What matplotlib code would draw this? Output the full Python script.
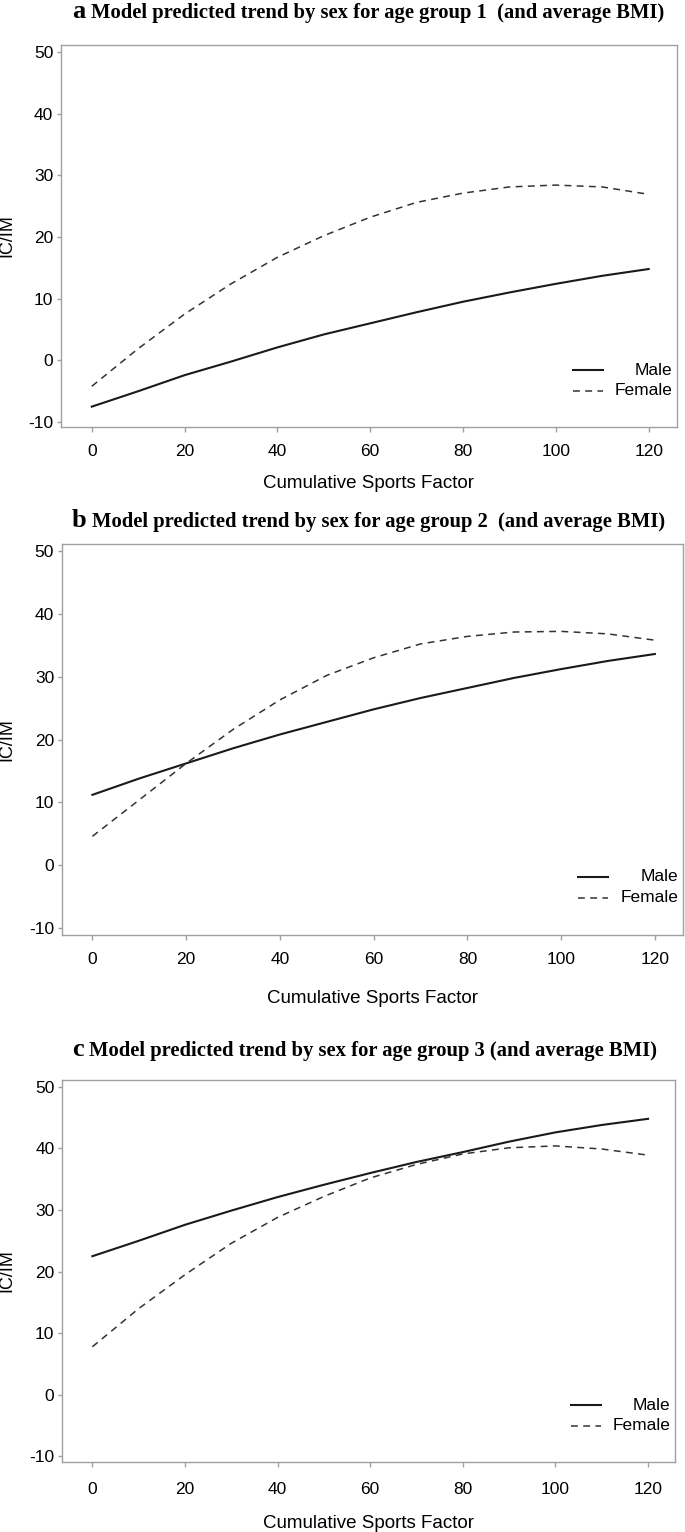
import matplotlib
matplotlib.use("Agg")
from matplotlib import pyplot as plt

plt.rcParams["font.family"] = ["Liberation Sans", "DejaVu Sans"]
plt.rcParams["axes.unicode_minus"] = False

csf = [0, 10, 20, 30, 40, 50, 60, 70, 80, 90, 100, 110, 120]

# age group 1
male_1 = [-7.5, -5.0, -2.4, -0.2, 2.1, 4.2, 6.0, 7.8, 9.5, 11.0, 12.4, 13.7, 14.8]
female_1 = [-4.2, 1.9, 7.5, 12.4, 16.7, 20.2, 23.2, 25.6, 27.1, 28.1, 28.4, 28.1, 26.9]
# age group 2
male_2 = [11.2, 13.8, 16.2, 18.6, 20.8, 22.8, 24.8, 26.6, 28.2, 29.8, 31.2, 32.5, 33.6]
female_2 = [4.6, 10.4, 16.2, 21.6, 26.3, 30.2, 33.0, 35.2, 36.4, 37.1, 37.2, 36.8, 35.8]
# age group 3
male_3 = [22.5, 25.0, 27.6, 29.9, 32.1, 34.1, 36.0, 37.8, 39.4, 41.1, 42.6, 43.8, 44.8]
female_3 = [7.8, 14.0, 19.5, 24.6, 28.8, 32.2, 35.2, 37.4, 39.1, 40.1, 40.4, 39.9, 38.9]

letters = ["a", "b", "c"]
titles = [
    "Model predicted trend by sex for age group 1  (and average BMI)",
    "Model predicted trend by sex for age group 2  (and average BMI)",
    "Model predicted trend by sex for age group 3 (and average BMI)",
]
xticks = [0, 20, 40, 60, 80, 100, 120]
yticks = [-10, 0, 10, 20, 30, 40, 50]

W, H = 685, 1532
fig = plt.figure(figsize=(W / 100, H / 100), dpi=100)

# left, right, top, bottom (pixels), xlim, ylim, title baseline, x pad, xlabel pad
panels = [
    (60.7, 677, 45, 427, (-6.7, 126.1), (-10.8, 51.1), 18, 8.5, 12),
    (61.5, 683, 544, 935, (-6.6, 126.0), (-11.1, 51.1), 527, 8.5, 17),
    (61.8, 674.5, 1080, 1462, (-6.6, 125.7), (-10.9, 51.1), 1056, 10.5, 13),
]
data = [(male_1, female_1), (male_2, female_2), (male_3, female_3)]

grey = "#a0a0a0"
for i, (l, r, t, b, xlim, ylim, tb, xp, lp) in enumerate(panels):
    ax = fig.add_axes([l / W, 1 - b / H, (r - l) / W, (b - t) / H])
    male, female = data[i]
    ax.plot(csf, male, color="#1a1a1a", lw=1.5, ls="-")
    ax.plot(csf, female, color="#333333", lw=1.1, ls=(0, (4.5, 3.5)))
    ax.set_xlim(*xlim)
    ax.set_ylim(*ylim)
    ax.set_xticks(xticks)
    ax.set_yticks(yticks)
    for s in ax.spines.values():
        s.set_color(grey)
        s.set_linewidth(1.0)
    ax.tick_params(axis="both", direction="out", width=1.0,
                   color=grey, labelsize=12.5, labelcolor="black")
    ax.tick_params(axis="x", length=3.6, pad=xp)
    ax.tick_params(axis="y", length=3, pad=2.3)
    ax.set_xlabel("Cumulative Sports Factor", fontsize=13.5, labelpad=lp)
    ax.set_ylabel("IC/IM", fontsize=13)
    ax.yaxis.set_label_coords((15 - l) / (r - l), 0.5)

    # legend, lower right, text right aligned
    ax.plot([0.831, 0.880], [0.149, 0.149], transform=ax.transAxes,
            color="#1a1a1a", lw=1.5, ls="-")
    ax.plot([0.831, 0.880], [0.095, 0.095], transform=ax.transAxes,
            color="#333333", lw=1.1, ls=(0, (4.5, 3.5)))
    ax.text(0.993, 0.149, "Male", transform=ax.transAxes, ha="right",
            va="center", fontsize=12.5)
    ax.text(0.993, 0.095, "Female", transform=ax.transAxes, ha="right",
            va="center", fontsize=12.5)

    # panel title: bigger letter then the rest
    lt = fig.text(72 / W, 1 - tb / H, letters[i], fontsize=19,
                  fontweight="bold", family="Liberation Serif", va="baseline")
    ax.annotate(titles[i], xy=(1, 0), xycoords=lt, xytext=(4, 0),
                textcoords="offset points", va="bottom", ha="left",
                fontsize=14.9, fontweight="bold", family="Liberation Serif",
                annotation_clip=False)

fig.savefig("out.png", dpi=100)
